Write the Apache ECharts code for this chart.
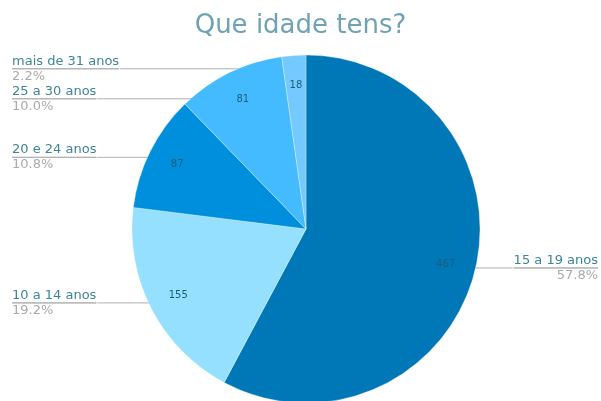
<!DOCTYPE html>
<html>
<head>
<meta charset="utf-8">
<script src="https://cdn.jsdelivr.net/npm/echarts@6/dist/echarts.min.js"></script>
<style>
html, body { margin: 0; padding: 0; background: #fff; }
#chart { width: 601px; height: 401px; }
</style>
</head>
<body>
<div id="chart"></div>
<script>
// faixas etárias e respostas
let categories = ['15 a 19 anos', '10 a 14 anos', '20 e 24 anos', '25 a 30 anos', 'mais de 31 anos']
let counts = [467, 155, 87, 81, 18]
let colors = ['#0077b6', '#95e0ff', '#008fdc', '#44bbff', '#74caff']

let total = counts.reduce((a, b) => a + b, 0)
let pieData = categories.map((name, i) => ({ name: name, value: counts[i] }))

let center = [306, 229]
let R = 174
let font = 'DejaVu Sans, Verdana, sans-serif'

let myChart = echarts.init(document.getElementById('chart'))
let option = {
    backgroundColor: '#fff',
    title: {
        text: 'Que idade tens?',
        left: 'center',
        top: 8,
        textStyle: {
            color: '#6fa2b2',
            fontSize: 26,
            fontWeight: 'normal',
            fontFamily: font
        }
    },
    color: colors,
    series: [
        // fatias visíveis
        {
            type: 'pie',
            silent: true,
            center: center,
            radius: R,
            startAngle: 90,
            data: pieData,
            itemStyle: { borderColor: 'rgba(255,255,255,0.6)', borderWidth: 0.5 },
            label: { show: false },
            labelLine: { show: false }
        },
        // valores dentro das fatias
        {
            type: 'pie',
            silent: true,
            center: center,
            radius: [R * 0.62, R],
            startAngle: 90,
            data: pieData,
            itemStyle: { color: 'transparent' },
            label: {
                show: true,
                position: 'inside',
                formatter: '{c}',
                color: '#1d5d78',
                fontSize: 10,
                fontFamily: font
            },
            labelLine: { show: false }
        },
        // nomes e percentagens
        {
            type: 'pie',
            silent: true,
            center: center,
            radius: R * 0.9,
            startAngle: 90,
            data: pieData.map((d, i) => ({
                name: d.name,
                value: d.value,
                label: { edgeDistance: i === 0 ? 3 : 12 }
            })),
            itemStyle: { color: 'transparent' },
            label: {
                show: true,
                position: 'outside',
                alignTo: 'edge',
                edgeDistance: 12,
                distanceToLabelLine: 0,
                formatter: (p) => '{n|' + p.name + '}\n{hr|}\n{p|' + (p.value / total * 100).toFixed(1) + '%}',
                rich: {
                    n: { color: '#3d8596', fontSize: 13, fontFamily: font, lineHeight: 15 },
                    hr: { borderColor: '#b0b0b0', borderWidth: 1, width: '100%', height: 0 },
                    p: { color: '#aaaaaa', fontSize: 13, fontFamily: font, lineHeight: 15 }
                }
            },
            labelLine: {
                show: true,
                length: 4,
                length2: 10,
                lineStyle: { color: '#b0b0b0', width: 1 }
            }
        }
    ]
}
myChart.setOption(option)
window.addEventListener('resize', () => {
    myChart.resize()
})
</script>
</body>
</html>
